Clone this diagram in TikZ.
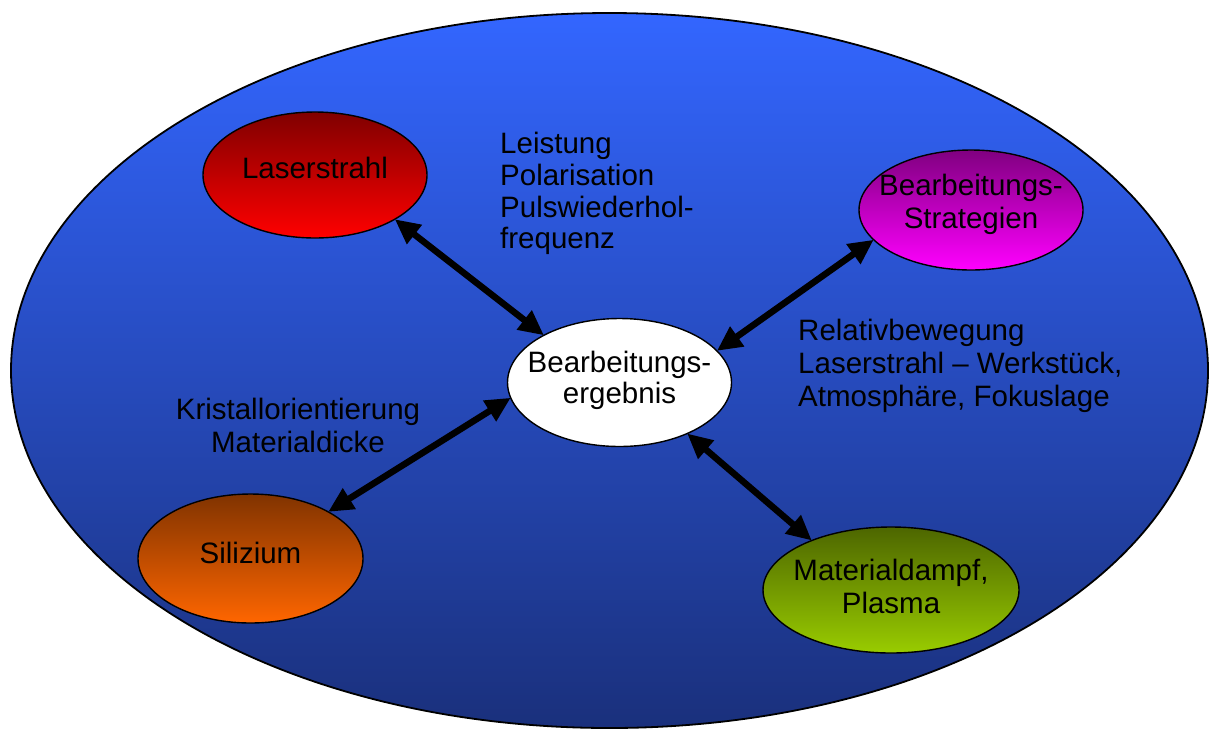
\documentclass[tikz,border=0pt]{standalone}
\usepackage{fontspec}
\setmainfont{Liberation Sans}
\usetikzlibrary{shapes.geometric,arrows.meta}
\definecolor{bigtop}{RGB}{51,102,255}
\definecolor{bigbot}{RGB}{26,48,124}
\definecolor{lastop}{RGB}{128,0,0}
\definecolor{lasbot}{RGB}{255,0,0}
\definecolor{strtop}{RGB}{128,0,128}
\definecolor{strbot}{RGB}{255,0,255}
\definecolor{siltop}{RGB}{128,51,0}
\definecolor{silbot}{RGB}{255,102,0}
\definecolor{mattop}{RGB}{77,102,0}
\definecolor{matbot}{RGB}{153,204,0}
\tikzset{
  bubble/.style={ellipse, draw=black, line width=1.4pt, inner sep=0pt, outer sep=0pt},
  txt/.style={anchor=base, inner sep=0pt, font=\fontsize{29.5}{33}\selectfont, text=black},
  txtl/.style={anchor=base west, inner sep=0pt, font=\fontsize{29.5}{33}\selectfont, text=black},
  biarrow/.style={line width=6.5pt, black, {Triangle[length=25pt,width=23pt]}-{Triangle[length=25pt,width=23pt]}}
}
\begin{document}
\begin{tikzpicture}[x=1pt,y=-1pt]
\useasboundingbox (0,0) rectangle (1209,729);
% big background ellipse
\node[bubble, line width=1.8pt, top color=bigtop, bottom color=bigbot,
      minimum width=1197pt, minimum height=715pt] (big) at (609.5,370.5) {};
% nodes
\node[bubble, top color=lastop, bottom color=lasbot, minimum width=224pt, minimum height=126pt] (las) at (315,175) {};
\node[bubble, top color=strtop, bottom color=strbot, minimum width=224pt, minimum height=120pt] (str) at (971,210) {};
\node[bubble, fill=white, minimum width=224pt, minimum height=128pt] (erg) at (619.5,382.5) {};
\node[bubble, top color=siltop, bottom color=silbot, minimum width=225pt, minimum height=129pt] (sil) at (250.5,558.5) {};
\node[bubble, top color=mattop, bottom color=matbot, minimum width=256pt, minimum height=126pt] (mat) at (891,590) {};
% node labels
\node[txt] (lasT) at (315,178) {Laserstrahl};
\node[txt] (strT1) at (971,195) {Bearbeitungs-};
\node[txt] (strT2) at (971,228) {Strategien};
\node[txt] (ergT1) at (619.5,372) {Bearbeitungs-};
\node[txt] (ergT2) at (619.5,403) {ergebnis};
\node[txt] (silT) at (250.5,563) {Silizium};
\node[txt] (matT1) at (891,580) {Materialdampf,};
\node[txt] (matT2) at (891,613) {Plasma};
% free texts
\node[txtl] (lt1) at (500,153) {Leistung};
\node[txtl] (lt2) at (500,185) {Polarisation};
\node[txtl] (lt3) at (500,217) {Pulswiederhol-};
\node[txtl] (lt4) at (500,248) {frequenz};
\node[txtl] (rt1) at (798,340) {Relativbewegung};
\node[txtl] (rt2) at (798,373) {Laserstrahl – Werkstück,};
\node[txtl] (rt3) at (798,406) {Atmosphäre, Fokuslage};
\node[txt] (kt1) at (298,419) {Kristallorientierung};
\node[txt] (kt2) at (298,452) {Materialdicke};
% connectors
\draw[biarrow] (las.-29.8) -- (erg.148.4);
\draw[biarrow] (str.197) -- (erg.18.6);
\draw[biarrow] (sil.31.3) -- (erg.188.3);
\draw[biarrow] (mat.148.3) -- (erg.-37.9);
\end{tikzpicture}
\end{document}
